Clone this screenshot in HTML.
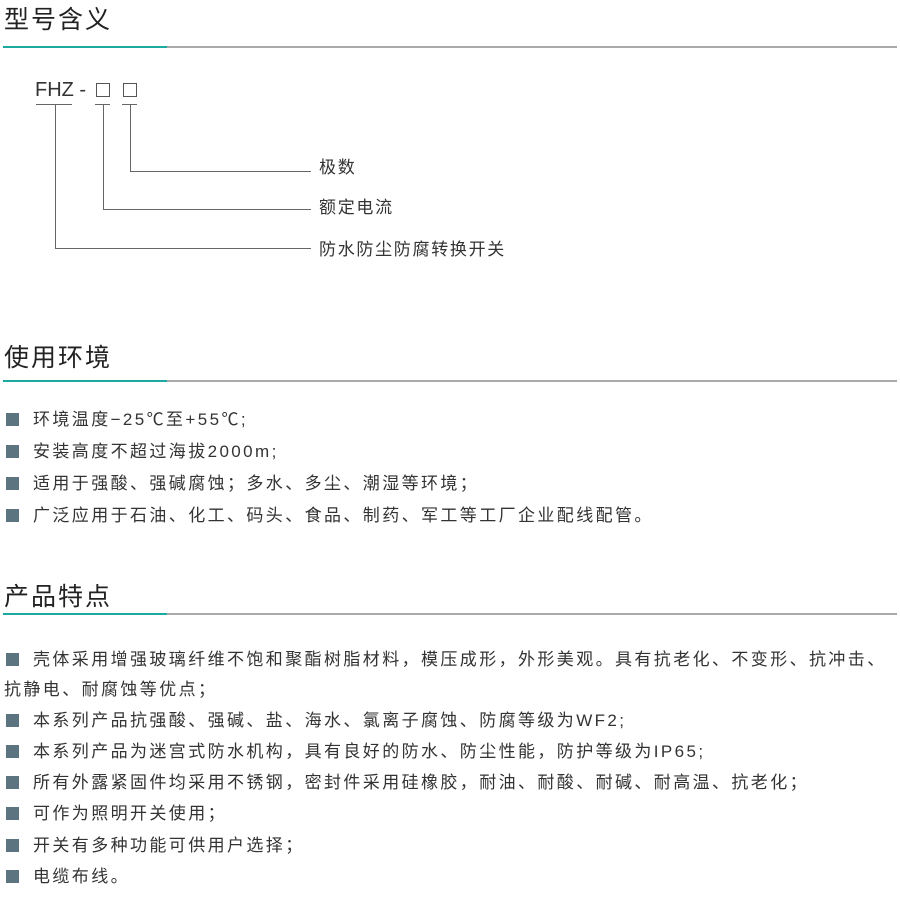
<!DOCTYPE html>
<html><head><meta charset="utf-8"><style>
body{margin:0;width:900px;height:914px;background:#fff;position:relative;font-family:"Liberation Sans","Noto Sans CJK SC",sans-serif;color:#333;}
.t{position:absolute;left:4px;font-size:25px;color:#222;letter-spacing:2px;line-height:30px}
.hl{position:absolute;left:3px;width:894px;height:2px;background:#aaa}
.hl i{display:block;width:164px;height:2px;background:#1aaa9f}
.b{position:absolute;left:6px;font-size:17px;line-height:20px;letter-spacing:2.4px;white-space:nowrap}
.b:before{content:"";display:inline-block;width:13px;height:13px;background:#5b7480;margin-right:14px;vertical-align:-1px}
.c{position:absolute;left:6px;font-size:17px;line-height:20px;letter-spacing:2.4px;white-space:nowrap}
.l{position:absolute;background:#666}
.lab{position:absolute;left:319px;font-size:17px;line-height:20px;letter-spacing:1.7px}
</style></head><body>
<div class="t" style="top:5px">型号含义</div>
<div class="hl" style="top:46px"><i></i></div>
<div style="position:absolute;left:35px;top:78px;font-size:20px;line-height:24px;color:#333">FHZ -</div>
<div style="position:absolute;left:96px;top:83px;width:12px;height:12px;border:1px solid #555"></div>
<div style="position:absolute;left:123px;top:83px;width:12px;height:12px;border:1px solid #555"></div>
<div class="l" style="left:36px;top:104px;width:36px;height:1px"></div>
<div class="l" style="left:95px;top:104px;width:15px;height:1px"></div>
<div class="l" style="left:122px;top:104px;width:15px;height:1px"></div>
<div class="l" style="left:55px;top:104px;width:1px;height:145px"></div>
<div class="l" style="left:55px;top:248px;width:256px;height:1px"></div>
<div class="l" style="left:103px;top:104px;width:1px;height:106px"></div>
<div class="l" style="left:103px;top:209px;width:208px;height:1px"></div>
<div class="l" style="left:130px;top:104px;width:1px;height:68px"></div>
<div class="l" style="left:130px;top:171px;width:181px;height:1px"></div>
<div class="lab" style="top:158px">极数</div>
<div class="lab" style="top:198px">额定电流</div>
<div class="lab" style="top:240px">防水防尘防腐转换开关</div>

<div class="t" style="top:343px">使用环境</div>
<div class="hl" style="top:380px"><i></i></div>
<div class="b" style="top:410px">环境温度−25℃至+55℃;</div>
<div class="b" style="top:442px">安装高度不超过海拔2000m;</div>
<div class="b" style="top:474px">适用于强酸、强碱腐蚀；多水、多尘、潮湿等环境；</div>
<div class="b" style="top:506px">广泛应用于石油、化工、码头、食品、制药、军工等工厂企业配线配管。</div>

<div class="t" style="top:582px">产品特点</div>
<div class="hl" style="top:613px"><i></i></div>
<div class="b" style="top:650px">壳体采用增强玻璃纤维不饱和聚酯树脂材料，模压成形，外形美观。具有抗老化、不变形、抗冲击、</div>
<div class="c" style="top:680px;left:4px">抗静电、耐腐蚀等优点；</div>
<div class="b" style="top:711px">本系列产品抗强酸、强碱、盐、海水、氯离子腐蚀、防腐等级为WF2;</div>
<div class="b" style="top:742px">本系列产品为迷宫式防水机构，具有良好的防水、防尘性能，防护等级为IP65;</div>
<div class="b" style="top:773px">所有外露紧固件均采用不锈钢，密封件采用硅橡胶，耐油、耐酸、耐碱、耐高温、抗老化；</div>
<div class="b" style="top:804px">可作为照明开关使用；</div>
<div class="b" style="top:836px">开关有多种功能可供用户选择；</div>
<div class="b" style="top:867px">电缆布线。</div>
</body></html>
